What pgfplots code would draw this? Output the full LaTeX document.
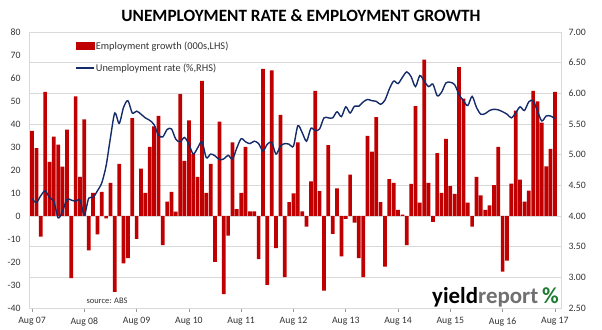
\documentclass[border=0pt]{standalone}
\usepackage{pgfplots}
\pgfplotsset{compat=1.18}
\usepackage{fontspec}
\setmainfont{Carlito}
\definecolor{barred}{HTML}{C00000}
\definecolor{navy}{HTML}{142B6A}
\definecolor{gridc}{HTML}{D9D9D9}
\definecolor{txt}{HTML}{333333}
\definecolor{logogray}{HTML}{707070}
\definecolor{logogreen}{HTML}{1E7B34}
\begin{document}
\begin{tikzpicture}
\path[use as bounding box] (0,0) rectangle (602bp,330bp);
\node[font=\bfseries\fontsize{17.3}{20}\selectfont, text=black] at (301bp,314bp) {UNEMPLOYMENT RATE \& EMPLOYMENT GROWTH};
\begin{axis}[
  at={(29bp,22bp)}, anchor=south west,
  scale only axis, width=532bp, height=276bp,
  xmin=-0.7, xmax=121.4,
  ymin=-40, ymax=80,
  ytick={-40,-30,...,80},
  xtick={0,12,...,120},
  xticklabels={Aug 07,Aug 08,Aug 09,Aug 10,Aug 11,Aug 12,Aug 13,Aug 14,Aug 15,Aug 16,Aug 17},
  axis line style={gridc, line width=0.8bp},
  tick align=outside,
  xtick pos=lower, ytick pos=left,
  major tick length=4bp,
  xtick style={gridc!70!black, line width=0.6bp},
  ytick style={draw=none},
  extra y ticks={-26.667,-13.333,0,13.333,26.667,40,53.333,66.667},
  extra y tick labels={},
  extra y tick style={grid=major, major grid style={gridc, line width=0.9bp}, tick style={draw=none}},
  /pgf/number format/assume math mode=true,
  yticklabel style={font=\fontsize{9.8}{11}\selectfont, text=txt, xshift=-1bp},
  xticklabel style={font=\fontsize{9.8}{11}\selectfont, text=txt, yshift=-2bp},
  ybar, bar width=3.7bp,
  clip=false,
]
\addplot[fill=barred, draw=none] coordinates {
(0,37) (1,29.5) (2,-9) (3,54) (4,23.5) (5,34.5) (6,31) (7,21.5) (8,37.5) (9,-27)
(10,52) (11,17) (12,42) (13,-15) (14,10) (15,-8) (16,10.5) (17,-1) (18,14.4) (19,-33)
(20,22.7) (21,-20.6) (22,-18.3) (23,42.6) (24,-10) (25,20.6) (26,10) (27,30) (28,39) (29,43.5)
(30,-12.7) (31,6.2) (32,10.5) (33,1.9) (34,53) (35,24) (36,41.6) (37,27) (38,17) (39,58.7)
(40,10) (41,22.7) (42,-20) (43,41) (44,-34) (45,-8.5) (46,32) (47,3) (48,10) (49,30)
(50,2) (51,2) (52,-18.7) (53,64) (54,-30) (55,63.3) (56,-14) (57,44) (58,-26.6) (59,6)
(60,9.8) (61,32) (62,2) (63,-4.6) (64,15) (65,54.4) (66,10.8) (67,-32.4) (68,30.8) (69,-7.8)
(70,12) (71,-17.6) (72,-1.2) (73,18) (74,-2.9) (75,-18.3) (76,-26.6) (77,34.8) (78,28) (79,43)
(80,6) (81,-22) (82,16) (83,14.4) (84,2.7) (85,0.6) (86,-12.7) (87,14) (88,47.8) (89,5.8)
(90,68) (91,14.4) (92,-2.6) (93,27.3) (94,10) (95,33.5) (96,13) (97,9.6) (98,64.7) (99,51)
(100,5.8) (101,-4.6) (102,17) (103,9) (104,2.7) (105,4.6) (106,13.4) (107,30) (108,-24.2) (109,-19.4)
(110,14.1) (111,45.8) (112,15.8) (113,6.3) (114,11) (115,54.4) (116,49.8) (117,40.6) (118,21.6) (119,29.2)
(120,54)
};
\end{axis}
\begin{axis}[
  at={(29bp,22bp)}, anchor=south west,
  scale only axis, width=532bp, height=276bp,
  xmin=-0.7, xmax=121.4,
  ymin=2.5, ymax=7,
  ytick={2.5,3,...,7},
  axis x line=none,
  axis y line*=right,
  axis line style={gridc, line width=0.8bp},
  ytick style={draw=none},
  /pgf/number format/assume math mode=true,
  yticklabel style={font=\fontsize{9.8}{11}\selectfont, text=txt, xshift=4bp, /pgf/number format/.cd, fixed, fixed zerofill, precision=2},
  legend style={at={(0.087,0.97)}, anchor=north west, draw=none, fill=none,
    font=\fontsize{10.4}{12}\selectfont, text=txt, row sep=11bp, inner sep=0pt,
    nodes={inner sep=1bp}},
  legend cell align=left,
]
\addlegendimage{legend image code/.code={\fill[barred] (0bp,-3.5bp) rectangle (18bp,3.5bp);}}
\addlegendentry{Employment growth (000s,LHS)}
\addplot[navy, line width=1.4bp, smooth, tension=0.5, mark=none,
  legend image code/.code={\draw[navy, line width=1.4bp] (0bp,0bp) -- (18bp,0bp);}] coordinates {
(0,4.28) (1,4.22) (2,4.33) (3,4.41) (4,4.30) (5,4.24) (6,3.97) (7,4.08) (8,4.27) (9,4.26)
(10,4.24) (11,4.26) (12,4.02) (13,4.29) (14,4.30) (15,4.41) (16,4.54) (17,4.82) (18,5.28) (19,5.68)
(20,5.51) (21,5.77) (22,5.88) (23,5.68) (24,5.71) (25,5.66) (26,5.60) (27,5.56) (28,5.49) (29,5.32)
(30,5.29) (31,5.41) (32,5.42) (33,5.25) (34,5.21) (35,5.28) (36,5.17) (37,5.01) (38,5.11) (39,5.21)
(40,4.95) (41,5.01) (42,4.98) (43,4.92) (44,4.93) (45,4.99) (46,4.93) (47,5.11) (48,5.26) (49,5.21)
(50,5.18) (51,5.22) (52,5.18) (53,5.06) (54,5.17) (55,5.20) (56,5.01) (57,5.14) (58,5.18) (59,5.17)
(60,5.14) (61,5.47) (62,5.36) (63,5.22) (64,5.43) (65,5.39) (66,5.42) (67,5.60) (68,5.60) (69,5.60)
(70,5.70) (71,5.62) (72,5.78) (73,5.68) (74,5.79) (75,5.79) (76,5.86) (77,5.90) (78,5.88) (79,5.87)
(80,5.82) (81,5.89) (82,6.07) (83,6.20) (84,6.16) (85,6.26) (86,6.35) (87,6.27) (88,6.11) (89,6.29)
(90,6.20) (91,6.11) (92,6.15) (93,5.96) (94,6.02) (95,6.17) (96,6.18) (97,6.14) (98,5.98) (99,5.88)
(100,5.80) (101,5.95) (102,5.77) (103,5.66) (104,5.67) (105,5.72) (106,5.74) (107,5.73) (108,5.70) (109,5.66)
(110,5.60) (111,5.68) (112,5.78) (113,5.72) (114,5.86) (115,5.88) (116,5.71) (117,5.55) (118,5.63) (119,5.63)
(120,5.59)
};
\addlegendentry{Unemployment rate (\%,RHS)}
\end{axis}
\node[anchor=west, font=\fontsize{8.5}{10}\selectfont, text=txt] at (83bp,29bp) {source: ABS};
\node[anchor=base west, font=\bfseries\fontsize{23}{26}\selectfont, inner sep=0pt] at (432bp,27bp) {\textcolor{black}{yield}\textcolor{logogray}{report}\,\textcolor{logogreen}{\%}};
\end{tikzpicture}
\end{document}
